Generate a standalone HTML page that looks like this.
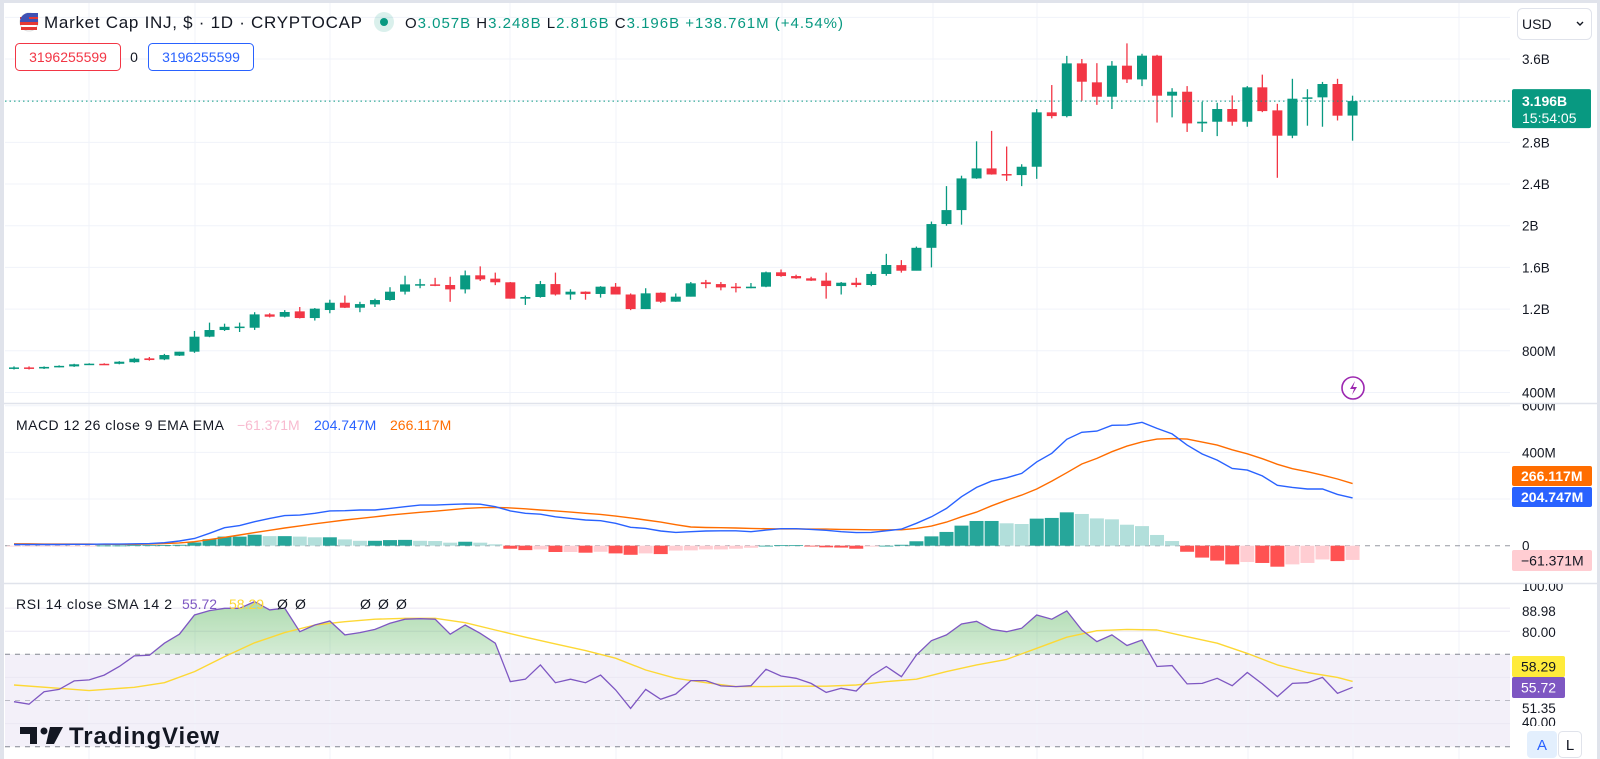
<!DOCTYPE html>
<html><head><meta charset="utf-8"><style>
html,body{margin:0;padding:0;background:#fff;}
svg{display:block;font-family:"Liberation Sans",sans-serif;}
</style></head><body>
<svg id="chart" width="1600" height="759" viewBox="0 0 1600 759" xmlns="http://www.w3.org/2000/svg">
<defs>
<clipPath id="cpMain"><rect x="5" y="3" width="1505" height="400"/></clipPath>
<clipPath id="cpMacd"><rect x="5" y="404" width="1505" height="179"/></clipPath>
<clipPath id="cpRsi"><rect x="5" y="584" width="1505" height="175"/></clipPath>
<clipPath id="cpAbove70"><rect x="5" y="584" width="1505" height="70.3"/></clipPath>
<clipPath id="cpAxMacd"><rect x="1510" y="404" width="90" height="179"/></clipPath>
<clipPath id="cpAxRsi"><rect x="1510" y="584" width="90" height="142"/></clipPath>
<linearGradient id="gGreen" x1="0" y1="0" x2="0" y2="1">
<stop offset="0" stop-color="#4caf50" stop-opacity="0.45"/><stop offset="1" stop-color="#4caf50" stop-opacity="0.02"/>
</linearGradient>
</defs>
<rect x="0" y="0" width="1600" height="3" fill="#e0e3eb"/>
<rect x="0" y="0" width="4" height="759" fill="#e0e3eb"/>
<rect x="1597" y="0" width="3" height="759" fill="#e0e3eb"/>
<rect x="5" y="654.3" width="1505" height="92.4" fill="#7e57c2" fill-opacity="0.09"/>
<g id="grid"></g>
<g id="mainPane" clip-path="url(#cpMain)"></g>
<g id="macdPane" clip-path="url(#cpMacd)"></g>
<g id="rsiPane" clip-path="url(#cpRsi)"></g>
<line x1="0" y1="403.5" x2="1600" y2="403.5" stroke="#e0e3eb" stroke-width="1.5"/>
<line x1="0" y1="583.5" x2="1600" y2="583.5" stroke="#e0e3eb" stroke-width="1.5"/>
<g id="axis" font-size="13.5" fill="#131722"></g>

<!-- header -->
<g>
<g>
<circle cx="29" cy="22" r="9" fill="#fff" stroke="#ddd"/>
<rect x="20" y="22" width="18" height="3" fill="#e53935"/>
<rect x="21" y="27" width="16" height="3" fill="#e53935"/>
<path d="M20 22 A9 9 0 0 1 29 13 L38 13 L38 22 Z" fill="#3f51b5"/>
<rect x="20" y="17" width="18" height="2" fill="#e53935"/>
<path d="M20 22 A9 9 0 0 1 29 13 L29 22 Z" fill="#3f51b5"/>
</g>
<text x="44" y="28" font-size="17" fill="#131722" textLength="318">Market Cap INJ, $ · 1D · CRYPTOCAP</text>
<circle cx="384" cy="22" r="10" fill="#089981" fill-opacity="0.15"/>
<circle cx="384" cy="22" r="4" fill="#089981"/>
<text x="405" y="28" font-size="15" fill="#089981" textLength="438"><tspan fill="#131722">O</tspan>3.057B <tspan fill="#131722">H</tspan>3.248B <tspan fill="#131722">L</tspan>2.816B <tspan fill="#131722">C</tspan>3.196B +138.761M (+4.54%)</text>
<rect x="15.5" y="43.5" width="105" height="27" rx="4" fill="#fff" stroke="#f23645"/>
<text x="68" y="62" font-size="14" fill="#f23645" text-anchor="middle">3196255599</text>
<text x="134" y="62" font-size="14" fill="#131722" text-anchor="middle">0</text>
<rect x="148.5" y="43.5" width="105" height="27" rx="4" fill="#fff" stroke="#2962ff"/>
<text x="201" y="62" font-size="14" fill="#2962ff" text-anchor="middle">3196255599</text>
</g>
<g>
<rect x="1517.5" y="8.5" width="74" height="31" rx="5" fill="#fff" stroke="#e0e3eb"/>
<text x="1522" y="29" font-size="14" fill="#131722">USD</text>
<path d="M1577 22 l3 3 l3 -3" fill="none" stroke="#131722" stroke-width="1.4"/>
</g>

<!-- legends -->
<g font-size="14">
<text x="16" y="430" fill="#131722" textLength="208">MACD 12 26 close 9 EMA EMA</text>
<text x="237" y="430" fill="#f8bbd0">−61.371M</text>
<text x="314" y="430" fill="#2962ff">204.747M</text>
<text x="390" y="430" fill="#ff6d00">266.117M</text>
</g>
<g font-size="14">
<text x="16" y="609" fill="#131722" textLength="156">RSI 14 close SMA 14 2</text>
<text x="182" y="609" fill="#7e57c2">55.72</text>
<text x="229" y="609" fill="#fdd835">58.29</text>
<text x="277" y="609" fill="#131722">Ø</text><text x="295" y="609" fill="#131722">Ø</text>
<text x="360" y="609" fill="#131722">Ø</text><text x="378" y="609" fill="#131722">Ø</text><text x="396" y="609" fill="#131722">Ø</text>
</g>

<g>
<path d="M20 727 h17 v17 h-7 v-10 h-10 Z" fill="#131722"/>
<circle cx="44" cy="731" r="3.5" fill="#131722"/>
<path d="M50 727 h13 l-9 17 h-8 Z" fill="#131722"/>
<text x="69" y="744" font-size="24" font-weight="bold" fill="#131722" textLength="150">TradingView</text>
</g>

<g>
<circle cx="1353" cy="388" r="11" fill="#fff" stroke="#9c27b0" stroke-width="1.6"/>
<path d="M1355 381 l-5 8 h4 l-2 6 l5 -8 h-4 Z" fill="#9c27b0"/>
</g>
<g>
<rect x="1527" y="731" width="30" height="27" rx="4" fill="#e3effd"/>
<text x="1542" y="750" font-size="15" fill="#2962ff" text-anchor="middle">A</text>
</g>
<g>
<rect x="1558.5" y="731.5" width="23" height="26" rx="4" fill="#fff" stroke="#e0e3eb"/>
<text x="1570" y="750" font-size="15" fill="#131722" text-anchor="middle">L</text>
</g>
</svg>
<script>
// ---- data ----
const opens  = [0.63,0.64,0.63,0.645,0.65,0.675,0.675,0.675,0.69,0.727,0.717,0.753,0.791,0.935,0.999,1.03,1.021,1.149,1.127,1.178,1.114,1.191,1.261,1.213,1.245,1.287,1.367,1.437,1.437,1.431,1.389,1.524,1.492,1.457,1.30,1.316,1.44,1.34,1.367,1.345,1.415,1.34,1.20,1.357,1.271,1.319,1.457,1.44,1.415,1.40,1.415,1.553,1.517,1.495,1.473,1.421,1.453,1.431,1.537,1.622,1.568,1.788,2.016,2.15,2.454,2.55,2.496,2.486,2.566,3.088,3.052,3.558,3.376,3.238,3.536,3.404,3.632,3.248,3.286,2.982,2.998,3.12,2.998,3.328,3.107,2.864,3.219,3.232,3.36,3.057];
const closes = [0.64,0.63,0.645,0.655,0.67,0.676,0.674,0.695,0.724,0.711,0.759,0.791,0.935,0.999,1.03,1.032,1.149,1.127,1.172,1.114,1.204,1.261,1.213,1.248,1.287,1.367,1.437,1.439,1.435,1.389,1.524,1.485,1.457,1.30,1.316,1.44,1.34,1.367,1.345,1.415,1.34,1.20,1.351,1.271,1.319,1.447,1.44,1.408,1.406,1.415,1.553,1.517,1.495,1.473,1.421,1.453,1.431,1.537,1.623,1.568,1.788,2.016,2.15,2.454,2.55,2.492,2.486,2.566,3.088,3.052,3.558,3.382,3.238,3.536,3.404,3.632,3.248,3.286,2.982,2.998,3.12,2.998,3.328,3.10,2.864,3.219,3.232,3.36,3.056,3.196];
const highs  = [0.65,0.65,0.65,0.66,0.675,0.68,0.68,0.70,0.733,0.74,0.77,0.79,0.99,1.07,1.06,1.07,1.17,1.16,1.19,1.22,1.21,1.29,1.33,1.27,1.30,1.41,1.52,1.49,1.50,1.51,1.57,1.61,1.55,1.46,1.33,1.47,1.55,1.39,1.37,1.42,1.45,1.35,1.40,1.36,1.35,1.46,1.48,1.46,1.45,1.45,1.56,1.58,1.53,1.51,1.55,1.46,1.50,1.56,1.73,1.67,1.80,2.04,2.38,2.48,2.81,2.91,2.76,2.59,3.12,3.35,3.63,3.60,3.56,3.58,3.75,3.65,3.64,3.32,3.34,3.19,3.18,3.25,3.34,3.45,3.17,3.41,3.31,3.38,3.41,3.248];
const lows   = [0.62,0.62,0.625,0.64,0.645,0.67,0.67,0.67,0.685,0.705,0.71,0.75,0.78,0.93,0.99,0.98,1.00,1.12,1.12,1.11,1.09,1.16,1.21,1.17,1.22,1.28,1.34,1.40,1.42,1.27,1.35,1.47,1.43,1.30,1.24,1.31,1.33,1.29,1.29,1.31,1.34,1.19,1.20,1.26,1.27,1.32,1.40,1.38,1.36,1.40,1.41,1.51,1.49,1.47,1.30,1.34,1.41,1.42,1.52,1.55,1.57,1.60,2.0,2.01,2.45,2.49,2.43,2.38,2.45,3.03,3.04,3.20,3.16,3.12,3.37,3.34,2.99,3.04,2.90,2.90,2.86,2.96,2.95,3.09,2.46,2.84,2.96,2.95,3.01,2.816];
const macdVals = [5,5,5,5,6,6,7,7,8,9,13,20,31,53,77,86,103,117,129,131,139,149,150,153,153,160,167,174,174,177,179,178,167,149,139,135,124,117,110,107,96,79,74,63,57,60,63,64,64,60,67,73,73,70,66,60,56,57,64,71,96,124,160,210,250,277,291,310,359,396,456,486,491,516,517,529,503,479,431,393,367,331,324,299,259,250,243,243,220,205];
const signalVals = [8,8,7,7,7,7,6,6,6,7,9,12,17,26,36,46,56,66,76,85,94,102,110,117,124,131,137,143,148,154,160,163,164,162,158,153,149,144,139,134,127,119,110,101,90,80,78,77,76,74,73,72,72,71,71,70,69,68,68,68,74,84,101,124,144,171,195,217,243,277,313,350,374,403,427,445,457,459,457,444,431,411,394,373,349,330,317,302,286,266];
const histVals = [-3,-3,-2,-2,-1,-1,1,1,2,2,3,4,14,28,39,39,47,41,41,39,36,36,27,21,21,24,25,21,20,13,17,13,6,-13,-19,-16,-27,-27,-30,-26,-33,-39,-33,-36,-21,-20,-16,-16,-13,-9,0,2,2,-1,-7,-8,-13,-4,0,4,19,40,59,86,106,106,96,93,116,119,143,136,117,113,90,84,46,20,-26,-51,-64,-80,-70,-74,-90,-80,-74,-59,-66,-61];
const rsiVals = [49.5,48.4,53.8,54.8,58.5,58.9,61,64.7,69.3,69.6,74.8,78.7,87,88.9,89.9,89.9,92.8,89.2,90,79.8,82.7,84.4,78.4,79.4,80.8,83.4,85.2,85.4,85.2,78.7,82.7,79.1,74.8,58.2,59.2,65.4,57.7,59.2,57.7,61,54.6,46.6,54.8,50.5,52.8,58.6,58.6,56.3,56,56.4,63.5,60.6,59.6,57.4,53.5,55.3,54.1,60.6,64.7,60.3,69.7,75.9,78.4,83.1,84.3,80.8,79.8,81.3,87,85.2,88.8,80.5,75.5,78.4,73.8,76.2,64.7,65.1,57.2,57.4,59.6,56.4,62.1,57.2,51.7,57.4,57.7,60,53.1,55.72];
const smaIdx = [0,3,5,8,10,12,14,16,18,20,22,24,26,28,30,32,34,36,38,40,42,44,46,48,50,52,54,56,58,60,62,64,66,68,70,72,74,76,78,80,82,84,86,88,89];
const smaVals = [56.7,55.3,54.3,55.7,57.7,62.5,69,75,79.4,82.7,84.1,85.2,85.6,85.6,83.7,80.5,77.4,74.5,71.6,68.3,63.2,59.6,57.7,56,56,56.2,56.2,56.7,58.2,59.2,62.5,65.4,67.8,72.6,77.4,80.2,80.8,80.5,77.6,74.8,70.4,65.4,62.1,60,58.29];
const priceTicks = [3.6,2.8,2.4,2.0,1.6,1.2,0.8,0.4];
const priceTickLabels = ["3.6B","2.8B","2.4B","2B","1.6B","1.2B","800M","400M"];
const priceGrid = [4.0,3.6,3.2,2.8,2.4,2.0,1.6,1.2,0.8,0.4];
const macdTicks = [600,400,0];
const macdTickLabels = ["600M","400M","0"];
const rsiTickVals = [100,88.98,80,51.35,40];
const rsiTickLabels = ["100.00","88.98","80.00","51.35","40.00"];
const lastPrice = 3.196;

// ---- scales ----
const NS = "http://www.w3.org/2000/svg";
const xOf = i => 14 + i * 15.04;
const yP = v => 59 + (3.6 - v) * 104.2;
const yM = v => 545.7 - v * 0.2333;
const yR = v => 654.3 - (v - 70) * 2.31;
function mk(tag, attrs, parent){ const e=document.createElementNS(NS,tag); for(const k in attrs) e.setAttribute(k,attrs[k]); parent.appendChild(e); return e; }
const G = document.getElementById('grid');
const M = document.getElementById('mainPane');
const D = document.getElementById('macdPane');
const R = document.getElementById('rsiPane');
const A = document.getElementById('axis');

// grid
[89,195,330,510,616,782,933,1037,1143,1248,1353,1459].forEach(x=>{
  const l = mk('line',{x1:x,y1:3,x2:x,y2:759,stroke:'#f0f3fa','stroke-width':1},G);
  
  
});
priceGrid.forEach(v=>{
  const l = mk('line',{x1:5,y1:yP(v),x2:1510,y2:yP(v),stroke:'#f0f3fa'},G);
  
  
});
[600,400,200].forEach(v=>{
  const l = mk('line',{x1:5,y1:yM(v),x2:1510,y2:yM(v),stroke:'#f0f3fa'},G);
  
  
});
[90,80,60,40].forEach(v=>{
  const l = mk('line',{x1:5,y1:yR(v),x2:1510,y2:yR(v),stroke:'#ebe8f3'},G);
  
  
});

// candles
for(let i=0;i<opens.length;i++){
  const up = closes[i] >= opens[i];
  const col = up ? '#089981' : '#f23645';
  const x = xOf(i);
  const g = mk('g',{},M);
  
  
  mk('line',{x1:x,y1:yP(highs[i]),x2:x,y2:yP(lows[i]),stroke:col,'stroke-width':1.3},g);
  const top = yP(Math.max(opens[i],closes[i])), bot = yP(Math.min(opens[i],closes[i]));
  mk('rect',{x:x-5,y:top,width:10,height:Math.max(1.5,bot-top),fill:col},g);
}
const pl = mk('line',{x1:5,y1:yP(lastPrice),x2:1512,y2:yP(lastPrice),stroke:'#089981','stroke-width':1,'stroke-dasharray':'1.5 3'},document.getElementById('chart'));



// macd zero line
const z = mk('line',{x1:5,y1:yM(0),x2:1510,y2:yM(0),stroke:'#9598a1','stroke-dasharray':'5 5'},D);


// histogram
for(let i=0;i<histVals.length;i++){
  const h = histVals[i], p = i>0 ? histVals[i-1] : h;
  let col;
  if(h>=0) col = h>=p ? '#26a69a' : '#b2dfdb'; else col = h<p ? '#ff5252' : '#ffcdd2';
  const y0 = yM(0), y1 = yM(h);
  const r = mk('rect',{x:xOf(i)-7,y:Math.min(y0,y1),width:14,height:Math.max(0.8,Math.abs(y1-y0)),fill:col},D);
  
  
}
const ptsLine = (arr, ys) => arr.map((v,i)=>xOf(i).toFixed(1)+','+ys(v).toFixed(1)).join(' ');
const sig = mk('polyline',{points:ptsLine(signalVals,yM),fill:'none',stroke:'#ff6d00','stroke-width':1.4},D);


const mcd = mk('polyline',{points:ptsLine(macdVals,yM),fill:'none',stroke:'#2962ff','stroke-width':1.4},D);



// rsi
[70,50,30].forEach(v=>{
  const l = mk('line',{x1:5,y1:yR(v),x2:1510,y2:yR(v),stroke:'#787b86','stroke-dasharray':'5 5','stroke-width':v===50?0.8:1,'stroke-opacity':v===50?0.6:0.9},R);
  
  
});
const rsiPts = ptsLine(rsiVals,yR);
const fillPts = xOf(0)+','+yR(70)+' '+rsiPts+' '+xOf(rsiVals.length-1)+','+yR(70);
const fillG = mk('g',{'clip-path':'url(#cpAbove70)'},R);
const fp = mk('polygon',{points:fillPts,fill:'url(#gGreen)'},fillG);


const smaPts = smaIdx.map((idx,k)=>xOf(idx).toFixed(1)+','+yR(smaVals[k]).toFixed(1)).join(' ');
const sm = mk('polyline',{points:smaPts,fill:'none',stroke:'#fdd835','stroke-width':1.4,'stroke-linejoin':'round'},R);


const rl = mk('polyline',{points:rsiPts,fill:'none',stroke:'#7e57c2','stroke-width':1.3},R);



// axis labels
priceTicks.forEach((v,k)=>{
  const t = mk('text',{x:1522,y:yP(v)+5},A); t.textContent = priceTickLabels[k];
  
  
});
const ag = mk('g',{'clip-path':'url(#cpAxMacd)'},A);
macdTicks.forEach((v,k)=>{
  const t = mk('text',{x:1522,y:yM(v)+5},ag); t.textContent = macdTickLabels[k];
  
  
});
const rg = mk('g',{'clip-path':'url(#cpAxRsi)'},A);
const rsiLabelY = [591,616,637,713,727];
rsiTickVals.forEach((v,k)=>{
  const t = mk('text',{x:1522,y:rsiLabelY[k]},rg); t.textContent = rsiTickLabels[k];
  
  
});
function tag(x,y,w,h,bg,fg,txt,name,bold){
  const g = mk('g',{},A);
  
  
  mk('rect',{x:x,y:y,width:w,height:h,rx:2,fill:bg},g);
  const t = mk('text',{x:x+9,y:y+h/2+5,fill:fg,'font-size':14,'font-weight':bold?'bold':'normal'},g); t.textContent=txt;
}
// last price box
const pg = mk('g',{},A);


mk('rect',{x:1512,y:yP(lastPrice)-12,width:79,height:39,rx:2,fill:'#089981'},pg);
const t1 = mk('text',{x:1522,y:yP(lastPrice)+5,fill:'#fff','font-size':14,'font-weight':'bold'},pg); t1.textContent='3.196B';
const t2 = mk('text',{x:1522,y:yP(lastPrice)+22,fill:'#fff','font-size':14},pg); t2.textContent='15:54:05';
tag(1512,466,80,20,'#ff6d00','#fff','266.117M','signal-value-label',true);
tag(1512,487,80,20,'#2962ff','#fff','204.747M','macd-value-label',true);
tag(1512,550,80,21,'#ffcdd2','#131722','−61.371M','histogram-value-label',false);
tag(1512,656,53,21,'#ffeb3b','#131722','58.29','rsi-sma-value-label',false);
tag(1512,677,53,21,'#7e57c2','#fff','55.72','rsi-value-label',false);
</script>
</body></html>
